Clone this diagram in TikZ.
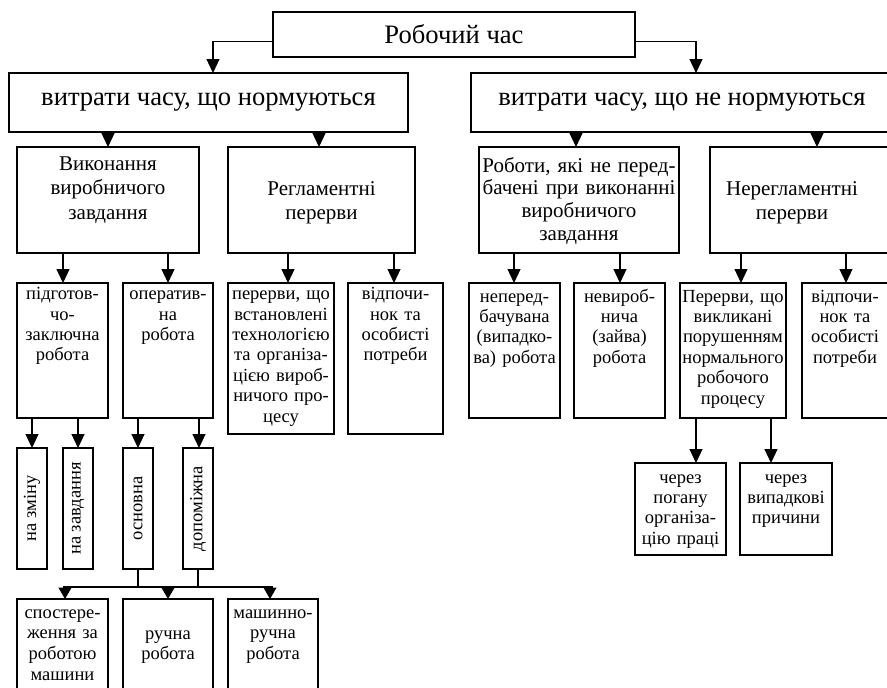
\documentclass[tikz,border=0pt]{standalone}
\usepackage{fontspec}
\setmainfont{Liberation Serif}
\usetikzlibrary{arrows.meta}
\newcommand\fbig{\fontsize{26.6}{30}\selectfont}
\newcommand\fmid{\fontsize{21}{24.5}\selectfont}
\newcommand\fmidb{\fontsize{21}{22.7}\selectfont}
\newcommand\fsml{\fontsize{18.5}{20.4}\selectfont}
\newcommand\fbot{\fontsize{18.5}{20.6}\selectfont}
\newcommand\mybox[5]{\node[box, minimum width={#4pt-#2pt}, minimum height={#5pt-#3pt}, anchor=north west] (#1) at (#2,#3) {};}
\newcommand\conn[3]{\draw[arr] ([xshift=#3pt]#2.north |- #1.south) -- ([xshift=#3pt]#2.north);}
\tikzset{
  box/.style={draw, line width=1.3pt, inner sep=0pt, outer sep=0pt},
  arr/.style={line width=1.2pt, -{Triangle[width=13pt,length=14pt]}},
  arrs/.style={line width=1.2pt, -{Triangle[width=13pt,length=11.5pt]}},
  txt/.style={inner sep=0pt, align=center, anchor=base},
}
\begin{document}
\begin{tikzpicture}[x=1pt,y=-1pt]
\useasboundingbox (0,0) rectangle (887,688);
\fill[white] (0,0) rectangle (887,688);
% level 0 and 1
\node[box, minimum width=362pt, minimum height=45pt, anchor=north west, font=\fbig] (top) at (273,12) {Робочий час};
\node[box, minimum width=399pt, minimum height=59pt, anchor=north west, font=\fbig] (L1) at (9,73) {витрати часу, що нормуються};
\node[box, minimum width=422pt, minimum height=59pt, anchor=north west, font=\fbig] (R1) at (471,73) {витрати часу, що не нормуються};
% level 2
\mybox{L2a}{17}{147}{199}{253}
\mybox{L2b}{228}{147}{415}{253}
\mybox{R2a}{479}{147}{679}{253}
\mybox{R2b}{710}{147}{893}{253}
\node[txt, text width=182pt, font=\fmid] (L2a-t) at (108,170.3) {Виконання\\виробничого\\завдання};
\node[txt, text width=187pt, font=\fmid] (L2b-t) at (321.5,195) {Регламентні\\перерви};
\node[txt, text width=210pt, font=\fmidb] (R2a-t) at (579,172) {Роботи, які не перед-\\бачені при виконанні\\виробничого\\завдання};
\node[txt, text width=170pt, font=\fmid] (R2b-t) at (792,195) {Нерегламентні\\перерви};
% level 3
\mybox{L3a}{17}{283}{108}{418}
\mybox{L3b}{123}{283}{213}{418}
\mybox{L3c}{228}{283}{334}{434}
\mybox{L3d}{348}{283}{443}{434}
\mybox{R3a}{469}{283}{560}{418}
\mybox{R3b}{574}{283}{665}{418}
\mybox{R3c}{680}{283}{786}{418}
\mybox{R3d}{802}{283}{900}{418}
\node[txt, text width=100pt, font=\fsml] (L3a-t) at (62.5,299.7) {підготов-\\чо-\\заключна\\робота};
\node[txt, text width=100pt, font=\fsml] (L3b-t) at (168,299.7) {оператив-\\на\\робота};
\node[txt, text width=110pt, font=\fsml] (L3c-t) at (281,299.7) {перерви, що\\встановлені\\технологією\\та організа-\\цією вироб-\\ничого про-\\цесу};
\node[txt, text width=100pt, font=\fsml] (L3d-t) at (395.5,299.7) {відпочи-\\нок та\\особисті\\потреби};
\node[txt, text width=100pt, font=\fsml] (R3a-t) at (514.5,302) {неперед-\\бачувана\\(випадко-\\ва) робота};
\node[txt, text width=100pt, font=\fsml] (R3b-t) at (619.5,302) {невироб-\\нича\\(зайва)\\робота};
\node[txt, text width=110pt, font=\fsml] (R3c-t) at (733,302) {Перерви, що\\викликані\\порушенням\\нормального\\робочого\\процесу};
\node[txt, text width=100pt, font=\fsml] (R3d-t) at (845,302) {відпочи-\\нок та\\особисті\\потреби};
% level 4 (vertical)
\mybox{L4a}{17}{448}{47}{569}
\mybox{L4b}{63}{448}{93}{569}
\mybox{L4c}{123}{448}{153}{569}
\mybox{L4d}{183}{448}{213}{569}
\node[rotate=90, inner sep=0pt, font=\fsml] (L4a-t) at (L4a.center) {на зміну};
\node[rotate=90, inner sep=0pt, font=\fsml] (L4b-t) at (L4b.center) {на завдання};
\node[rotate=90, inner sep=0pt, font=\fsml] (L4c-t) at (L4c.center) {основна};
\node[rotate=90, inner sep=0pt, font=\fsml] (L4d-t) at (L4d.center) {допоміжна};
% right level 4
\mybox{R4a}{635}{463}{726}{555}
\mybox{R4b}{740}{463}{832}{555}
\node[txt, text width=100pt, font=\fsml] (R4a-t) at (680.5,483) {через\\погану\\організа-\\цію праці};
\node[txt, text width=100pt, font=\fsml] (R4b-t) at (786,483) {через\\випадкові\\причини};
% level 5
\mybox{L5a}{17}{599}{108}{700}
\mybox{L5b}{123}{599}{213}{700}
\mybox{L5c}{228}{599}{318}{700}
\node[txt, text width=100pt, font=\fbot] (L5a-t) at (62.5,618.3) {спостере-\\ження за\\роботою\\машини};
\node[txt, text width=100pt, font=\fbot] (L5b-t) at (168,639.3) {ручна\\робота};
\node[txt, text width=100pt, font=\fbot] (L5c-t) at (273,618.3) {машинно-\\ручна\\робота};
% connectors
\draw[arr] ([yshift=-7pt]top.west) -| ([xshift=4.5pt]L1.north);
\draw[arr] ([yshift=-7pt]top.east) -| ([xshift=14pt]R1.north);
\conn{L1}{L2a}{0}
\conn{L1}{L2b}{-2.5}
\conn{R1}{R2a}{-3}
\conn{R1}{R2b}{15.5}
\conn{L2a}{L3a}{0.5}
\conn{L2a}{L3b}{0}
\conn{L2b}{L3c}{7}
\conn{L2b}{L3d}{-1.5}
\conn{R2a}{R3a}{-0.5}
\conn{R2a}{R3b}{0.5}
\conn{R2b}{R3c}{8}
\conn{R2b}{R3d}{-5}
\conn{L3a}{L4a}{0}
\conn{L3a}{L4b}{0}
\conn{L3b}{L4c}{0}
\conn{L3b}{L4d}{1}
\conn{R3c}{R4a}{15.5}
\conn{R3c}{R4b}{-15}
\coordinate (bus) at (0,587);
\draw[line width=1.2pt] (L4c.south) -- (L4c.south |- bus);
\draw[line width=1.2pt] (L4d.south) -- (L4d.south |- bus);
\draw[line width=2pt] ([xshift=0.5pt]L5a.north |- bus) -- (L5c.north |- bus);
\draw[arrs] ([xshift=2.5pt]L5a.north |- bus) -- ([xshift=2.5pt]L5a.north);
\draw[arrs] (L5b.north |- bus) -- (L5b.north);
\draw[arrs] ([xshift=-3pt]L5c.north |- bus) -- ([xshift=-3pt]L5c.north);
\end{tikzpicture}
\end{document}
